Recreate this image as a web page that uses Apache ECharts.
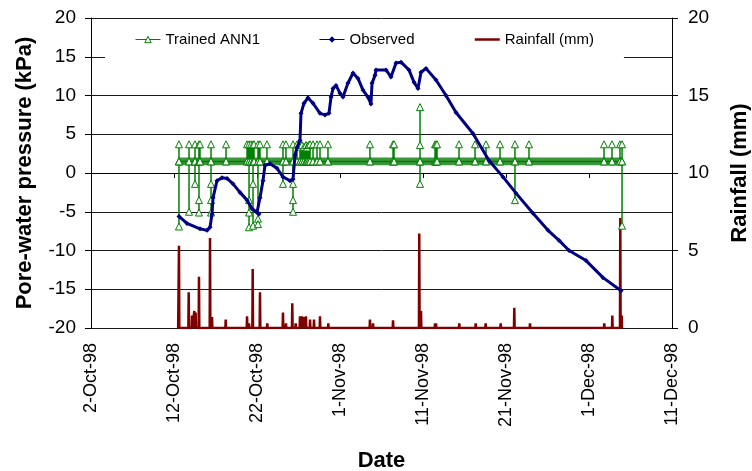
<!DOCTYPE html>
<html>
<head>
<meta charset="utf-8">
<script src="https://cdn.jsdelivr.net/npm/echarts@6/dist/echarts.min.js"></script>
<style>
  html, body { margin: 0; padding: 0; background: #fff; }
  #chart { width: 752px; height: 471px; }
</style>
</head>
<body>
<div id="chart"></div>
<script>
// x values are days after 2-Oct-98
const tickLabels = ['2-Oct-98', '12-Oct-98', '22-Oct-98', '1-Nov-98', '11-Nov-98', '21-Nov-98', '1-Dec-98', '11-Dec-98'];

// Observed pore-water pressure (kPa)
const observedDays = [10.60, 11.57, 13.13, 13.98, 14.34, 14.58, 14.70, 15.18, 15.78, 16.39, 17.11, 17.95, 18.80, 19.40, 20.00, 20.24, 20.36, 20.72, 20.96, 21.57, 22.41, 23.13, 23.98, 24.34, 24.58, 24.82, 25.18, 25.30, 25.66, 26.14, 26.75, 27.59, 28.19, 28.67, 28.92, 29.16, 29.52, 30.00, 30.36, 30.96, 31.57, 32.17, 32.77, 33.37, 33.73, 33.86, 34.22, 34.34, 35.54, 36.14, 36.75, 37.35, 38.31, 38.92, 39.40, 39.76, 40.36, 41.57, 42.77, 43.98, 46.02, 47.95, 49.64, 51.20, 53.25, 55.06, 56.39, 57.59, 59.64, 61.69, 63.86];
const observedKPa = [-5.6, -6.5, -7.2, -7.4, -7.0, -5.3, -3.2, -1.0, -0.6, -0.7, -1.4, -2.5, -3.5, -4.6, -5.1, -5.3, -3.2, -1.0, 1.0, 1.2, 0.6, -0.5, -1.0, -0.8, 2.3, 3.3, 4.2, 7.7, 9.0, 9.7, 9.0, 7.7, 7.5, 7.7, 9.8, 10.9, 11.3, 10.3, 9.8, 11.6, 12.9, 12.2, 10.7, 9.8, 8.9, 11.6, 12.6, 13.3, 13.3, 12.4, 14.2, 14.3, 13.3, 11.7, 10.9, 13.0, 13.5, 12.0, 10.0, 7.8, 5.1, 1.6, -0.5, -2.6, -5.2, -7.4, -8.7, -10.0, -11.3, -13.5, -15.2];

// Trained ANN1 output: at each day, the sequence of values visited
const annDays = [10.60, 11.81, 12.53, 13.01, 13.13, 14.46, 16.27, 18.80, 19.04, 19.28, 19.52, 19.64, 20.12, 20.36, 21.20, 23.13, 23.49, 24.34, 24.82, 25.18, 25.42, 25.66, 25.90, 26.02, 26.20, 26.39, 26.75, 27.23, 27.59, 28.55, 33.61, 36.39, 36.51, 39.64, 41.45, 41.57, 41.69, 44.34, 46.27, 47.59, 49.28, 51.08, 52.77, 61.81, 62.77, 63.73, 63.98];
const annSteps = [
  [1.5, 3.7, 1.5, -6.9, 1.5],
  [1.5, 3.7, -5.0, 1.5],
  [1.5, 3.7, 1.5, -1.4, 1.5],
  [1.5, 3.7, -3.5, -5.1, 1.5],
  [1.5, 3.7, 1.5],
  [1.5, 3.7, -1.4, -3.5, -5.1, 1.5],
  [1.5, 3.7, 1.5],
  [1.5, 3.7, 1.5],
  [1.5, 3.7, -3.5, -5.1, -7.0, 1.5],
  [1.5, 3.7, 1.5],
  [1.5, 3.7, -1.4, -6.8, 1.5],
  [1.5, 3.7, 1.5],
  [1.5, 3.7, -5.9, -6.6, 1.5],
  [1.5, 3.7, 1.5],
  [1.5, 3.7, 1.5],
  [1.5, 3.7, -1.4, 1.5],
  [1.5, 3.7, 1.5],
  [1.5, 3.7, -1.4, -3.5, -5.0, 1.5],
  [1.5, 3.7, 1.5],
  [1.5, 3.4, 1.5],
  [1.5, 3.6, 1.5],
  [1.5, 3.4, 1.5],
  [1.5, 3.6, 1.5],
  [1.5, 3.3, 1.5],
  [1.5, 3.6, 1.5],
  [1.5, 3.7, 1.5],
  [1.5, 3.7, 1.5],
  [1.5, 3.7, 1.5],
  [1.5, 3.7, 1.5],
  [1.5, 3.7, 1.5],
  [1.5, 3.7, 1.5],
  [1.5, 3.7, 1.5],
  [1.5, 3.7, 1.5],
  [1.5, 8.5, 3.6, 1.5, -1.4, 1.5],
  [1.5, 3.7, 1.5],
  [1.5, 3.7, 1.5],
  [1.5, 3.7, 1.5],
  [1.5, 3.7, 1.5],
  [1.5, 3.7, 1.5],
  [1.5, 3.7, 1.5],
  [1.5, 3.7, 1.5],
  [1.5, 3.7, -3.5, 1.5],
  [1.5, 3.7, 1.5],
  [1.5, 3.7, 1.5],
  [1.5, 3.7, 1.5],
  [1.5, 3.7, 1.5],
  [1.5, 3.7, 1.5, -6.8]
];
// band of the near-constant ANN output (kPa)
const annBand = [1.0, 2.0];

// Rainfall (mm), spikes on an otherwise dry record
const rainDays = [10.60, 11.77, 12.17, 12.45, 12.61, 13.01, 14.34, 14.58, 16.23, 18.80, 19.04, 19.48, 20.36, 21.24, 23.13, 23.49, 24.25, 24.66, 25.18, 25.42, 25.66, 25.90, 26.39, 26.87, 27.59, 28.59, 33.61, 33.98, 36.39, 39.55, 39.76, 41.45, 41.57, 44.37, 46.35, 47.55, 49.36, 51.00, 52.89, 61.84, 62.81, 63.77, 63.94];
const rainMm = [5.3, 2.3, 0.8, 1.1, 1.0, 3.3, 5.8, 0.7, 0.55, 0.75, 0.3, 3.8, 2.3, 0.3, 1.0, 0.3, 1.6, 0.3, 0.75, 0.75, 0.7, 0.75, 0.55, 0.55, 0.75, 0.3, 0.55, 0.3, 0.5, 6.1, 1.1, 0.3, 0.3, 0.3, 0.3, 0.3, 0.3, 1.3, 0.3, 0.3, 0.8, 7.1, 0.8];
const rainStart = 10.5, rainEnd = 64.0;

const observedData = observedDays.map((d, i) => [d, observedKPa[i]]);

const annData = [];
annDays.forEach((d, i) => {
    annSteps[i].forEach(v => annData.push([d, v]));
});

const rainData = [[rainStart, 0]];
rainDays.forEach((d, i) => {
    rainData.push([d - 0.04, 0], [d, rainMm[i]], [d + 0.04, 0]);
});
rainData.push([rainEnd, 0]);

const FONT = 'Liberation Sans, Arial, sans-serif';
const chart = echarts.init(document.getElementById('chart'));

const option = {
    animation: false,
    grid: { left: 91, right: 80, top: 18, bottom: 143, outerBoundsMode: 'none' },
    legend: {
        left: 105,
        top: 20,
        padding: [12, 30, 14, 30],
        backgroundColor: '#fff',
        itemGap: 59,
        itemWidth: 25,
        itemHeight: 8,
        textStyle: { fontFamily: FONT, fontSize: 15, color: '#000' },
        data: [
            { name: 'Trained ANN1', itemStyle: { color: '#fff', borderColor: '#008000', borderWidth: 1 }, lineStyle: { width: 1 } },
            { name: 'Observed', lineStyle: { width: 1 } },
            { name: 'Rainfall (mm)', itemStyle: { color: 'transparent', borderWidth: 0 }, lineStyle: { width: 2.5 } }
        ]
    },
    xAxis: {
        type: 'value',
        min: 0,
        max: 70,
        interval: 10,
        name: 'Date',
        nameLocation: 'middle',
        nameGap: 122,
        nameTextStyle: { fontFamily: FONT, fontSize: 22, fontWeight: 'bold', color: '#000' },
        axisLine: { show: true, lineStyle: { color: '#000', width: 1 } },
        axisTick: { show: true, length: 5, lineStyle: { color: '#000' } },
        splitLine: { show: false },
        axisLabel: {
            rotate: 90,
            margin: 15,
            fontFamily: FONT,
            fontSize: 18,
            color: '#000',
            formatter: v => tickLabels[Math.round(v / 10)]
        }
    },
    yAxis: [
        {
            type: 'value',
            min: -20,
            max: 20,
            interval: 5,
            name: 'Pore-water pressure (kPa)',
            nameLocation: 'middle',
            nameRotate: 90,
            nameGap: 55,
            nameTextStyle: { fontFamily: FONT, fontSize: 22, fontWeight: 'bold', color: '#000' },
            axisLine: { show: true, lineStyle: { color: '#000', width: 1 } },
            axisTick: { show: true, length: 6, lineStyle: { color: '#000' } },
            splitLine: { show: true, lineStyle: { color: '#1a1a1a', width: 1 } },
            axisLabel: { margin: 15, fontFamily: FONT, fontSize: 19, color: '#000' }
        },
        {
            type: 'value',
            min: 0,
            max: 20,
            interval: 5,
            name: 'Rainfall (mm)',
            nameLocation: 'middle',
            nameRotate: 90,
            nameGap: 57,
            nameTextStyle: { fontFamily: FONT, fontSize: 22, fontWeight: 'bold', color: '#000' },
            axisLine: { show: true, lineStyle: { color: '#000', width: 1 } },
            axisTick: { show: true, length: 6, lineStyle: { color: '#000' } },
            splitLine: { show: false },
            axisLabel: { margin: 16, fontFamily: FONT, fontSize: 19, color: '#000' }
        }
    ],
    series: [
        {
            name: 'Rainfall (mm)',
            type: 'line',
            yAxisIndex: 1,
            data: rainData,
            showSymbol: false,
            symbol: 'none',
            lineStyle: { color: '#800000', width: 2.5 },
            itemStyle: { color: '#800000' },
            z: 2
        },
        {
            name: 'Trained ANN1',
            type: 'line',
            yAxisIndex: 0,
            data: annData,
            symbol: 'triangle',
            symbolSize: 7,
            showAllSymbol: true,
            lineStyle: { color: '#008000', width: 1.5 },
            itemStyle: { color: '#fff', borderColor: '#008000', borderWidth: 1 },
            markArea: {
                silent: true,
                label: { show: false },
                itemStyle: { color: '#3c963c', opacity: 1 },
                data: [[
                    { coord: [annDays[0], annBand[0]] },
                    { coord: [annDays[annDays.length - 1], annBand[1]] }
                ]]
            },
            z: 3
        },
        {
            name: 'Observed',
            type: 'line',
            yAxisIndex: 0,
            data: observedData,
            symbol: 'diamond',
            symbolSize: 5,
            showAllSymbol: true,
            lineStyle: { color: '#000080', width: 3 },
            itemStyle: { color: '#000080' },
            z: 4
        }
    ]
};

chart.setOption(option);
</script>
</body>
</html>
